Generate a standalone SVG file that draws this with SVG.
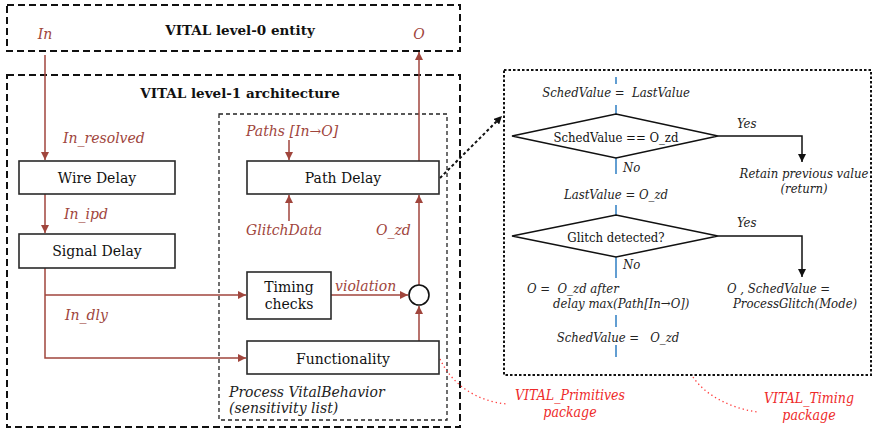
<svg xmlns="http://www.w3.org/2000/svg" width="872" height="428" viewBox="0 0 872 428">
  <style>
    .frame { fill: none; stroke: #111; stroke-width: 2; stroke-dasharray: 7 4; }
    .proc { fill: none; stroke: #222; stroke-width: 1.3; stroke-dasharray: 4 3; }
    .dotbox { fill: none; stroke: #111; stroke-width: 2; stroke-dasharray: 2.5 2; }
    .box { fill: #fff; stroke: #2a2a2a; stroke-width: 1.6; }
    .sig { fill: none; stroke: #a0453c; stroke-width: 1.5; }
    .flow { fill: none; stroke: #111; stroke-width: 1.5; }
    .blue { fill: none; stroke: #2f7fc4; stroke-width: 1.5; }
    .note { fill: none; stroke: #ff3b3b; stroke-width: 1.3; stroke-dasharray: 1.3 3; }
    text { font-family: "DejaVu Serif", "Liberation Serif", serif; }
    .title { font-size: 13.5px; font-weight: bold; fill: #111; text-anchor: middle; }
    .lbl { font-size: 14px; fill: #111; text-anchor: middle; }
    .sl { font-size: 14px; font-style: italic; fill: #a0453c; }
    .dk { fill: #222; }
    .it { font-family: "DejaVu Serif Condensed", "DejaVu Serif", serif; font-size: 13px; font-style: italic; fill: #222; white-space: pre; }
    .fl { font-family: "DejaVu Serif Condensed", "DejaVu Serif", serif; font-size: 13px; fill: #111; text-anchor: middle; }
    .pk { font-family: "DejaVu Serif Condensed", "DejaVu Serif", serif; font-size: 14px; font-style: italic; fill: #ee2a2a; }
  </style>
  <defs>
    <marker id="ar" viewBox="0 0 10 10" refX="10" refY="5" markerWidth="8" markerHeight="8" markerUnits="userSpaceOnUse" orient="auto">
      <path d="M0,0 L10,5 L0,10 z" fill="#a0453c"/>
    </marker>
    <marker id="ab" viewBox="0 0 10 10" refX="10" refY="5" markerWidth="8" markerHeight="8" markerUnits="userSpaceOnUse" orient="auto">
      <path d="M0,0 L10,5 L0,10 z" fill="#111"/>
    </marker>
  </defs>

  <!-- enclosing frames -->
  <g id="entity">
    <rect class="frame" x="7" y="5" width="453" height="46"/>
    <text class="title" x="240" y="35">VITAL level-0 entity</text>
    <text class="sl" x="45" y="39" text-anchor="middle">In</text>
    <text class="sl" x="419" y="39" text-anchor="middle">O</text>
  </g>
  <g id="architecture">
    <rect class="frame" x="7" y="75" width="453" height="352"/>
    <text class="title" x="240" y="98">VITAL level-1 architecture</text>
  </g>
  <g id="process">
    <rect class="proc" x="219" y="114" width="228" height="306"/>
    <text class="sl dk" x="229" y="397">Process VitalBehavior</text>
    <text class="sl dk" x="229" y="413">(sensitivity list)</text>
  </g>

  <!-- signal connectors -->
  <g id="connectors">
    <path class="sig" d="M45,55 V160" marker-end="url(#ar)"/>
    <path class="sig" d="M45,194 V233" marker-end="url(#ar)"/>
    <path class="sig" d="M45,268 V358 H246" marker-end="url(#ar)"/>
    <path class="sig" d="M45,295 H246" marker-end="url(#ar)"/>
    <path class="sig" d="M331,295 H408" marker-end="url(#ar)"/>
    <path class="sig" d="M419,341 V306" marker-end="url(#ar)"/>
    <path class="sig" d="M419,285 V195" marker-end="url(#ar)"/>
    <path class="sig" d="M419,161 V52" marker-end="url(#ar)"/>
    <path class="sig" d="M289,140 V160" marker-end="url(#ar)"/>
    <path class="sig" d="M289,221 V195" marker-end="url(#ar)"/>
    <path d="M440,178 L502,116" fill="none" stroke="#111" stroke-width="2" stroke-dasharray="3 2.5" marker-end="url(#ab)"/>
    <path class="note" d="M440,359 C452,385 478,402 508,404"/>
    <path class="note" d="M693,377 C705,395 730,408 757,412"/>
  </g>

  <!-- signal labels -->
  <g id="labels">
    <text class="sl" x="63" y="143">In_resolved</text>
    <text class="sl" x="64" y="219">In_ipd</text>
    <text class="sl" x="65" y="320">In_dly</text>
    <text class="sl" x="246" y="136">Paths [In→O]</text>
    <text class="sl" x="246" y="235">GlitchData</text>
    <text class="sl" x="376" y="235">O_zd</text>
    <text class="sl" x="335" y="291">violation</text>
  </g>

  <g id="wire-delay">
    <rect class="box" x="19" y="161" width="156" height="33"/>
    <text class="lbl" x="97" y="183">Wire Delay</text>
  </g>
  <g id="signal-delay">
    <rect class="box" x="19" y="234" width="156" height="34"/>
    <text class="lbl" x="97" y="256">Signal Delay</text>
  </g>
  <g id="path-delay">
    <rect class="box" x="247" y="161" width="192" height="33"/>
    <text class="lbl" x="343" y="183">Path Delay</text>
  </g>
  <g id="timing-checks">
    <rect class="box" x="247" y="272" width="84" height="47"/>
    <text class="lbl" x="289" y="292">Timing</text>
    <text class="lbl" x="289" y="309">checks</text>
  </g>
  <g id="functionality">
    <rect class="box" x="247" y="341" width="192" height="33"/>
    <text class="lbl" x="343" y="364">Functionality</text>
  </g>
  <g id="merge">
    <circle cx="419" cy="295" r="10" fill="#fff" stroke="#111" stroke-width="1.6"/>
  </g>

  <!-- glitch handling flow -->
  <g id="glitch-flow">
    <rect class="dotbox" x="504" y="70" width="367" height="305"/>
    <path class="blue" d="M616,77 V84 M616,105 V114 M616,158 V174 M616,205 V215 M616,257 V278 M616,315 V327 M616,345 V357"/>
    <text class="it" x="616" y="97" text-anchor="middle">SchedValue =  LastValue</text>
    <path d="M512,136 L616,114 L718,136 L616,158 z" fill="#fff" stroke="#111" stroke-width="1.5"/>
    <text class="fl" x="616" y="142">SchedValue == O_zd</text>
    <text class="it" x="737" y="128">Yes</text>
    <text class="it" x="623" y="172">No</text>
    <path class="flow" d="M718,136 H802 V162" marker-end="url(#ab)"/>
    <text class="it" x="804" y="178" text-anchor="middle">Retain previous value</text>
    <text class="it" x="804" y="193" text-anchor="middle">(return)</text>
    <text class="it" x="616" y="199" text-anchor="middle">LastValue = O_zd</text>
    <path d="M512,236 L616,215 L718,236 L616,257 z" fill="#fff" stroke="#111" stroke-width="1.5"/>
    <text class="fl" x="616" y="242">Glitch detected?</text>
    <text class="it" x="737" y="227">Yes</text>
    <text class="it" x="623" y="269">No</text>
    <path class="flow" d="M718,236 H802 V277" marker-end="url(#ab)"/>
    <text class="it" x="527" y="293">O =  O_zd after</text>
    <text class="it" x="553" y="308">delay max(Path[In→O])</text>
    <text class="it" x="618" y="342" text-anchor="middle">SchedValue =   O_zd</text>
    <text class="it" x="727" y="293">O , SchedValue =</text>
    <text class="it" x="733" y="308">ProcessGlitch(Mode)</text>
  </g>

  <g id="packages">
    <text class="pk" x="570" y="400" text-anchor="middle">VITAL_Primitives</text>
    <text class="pk" x="570" y="417" text-anchor="middle">package</text>
    <text class="pk" x="809" y="403" text-anchor="middle">VITAL_Timing</text>
    <text class="pk" x="809" y="420" text-anchor="middle">package</text>
  </g>
</svg>
